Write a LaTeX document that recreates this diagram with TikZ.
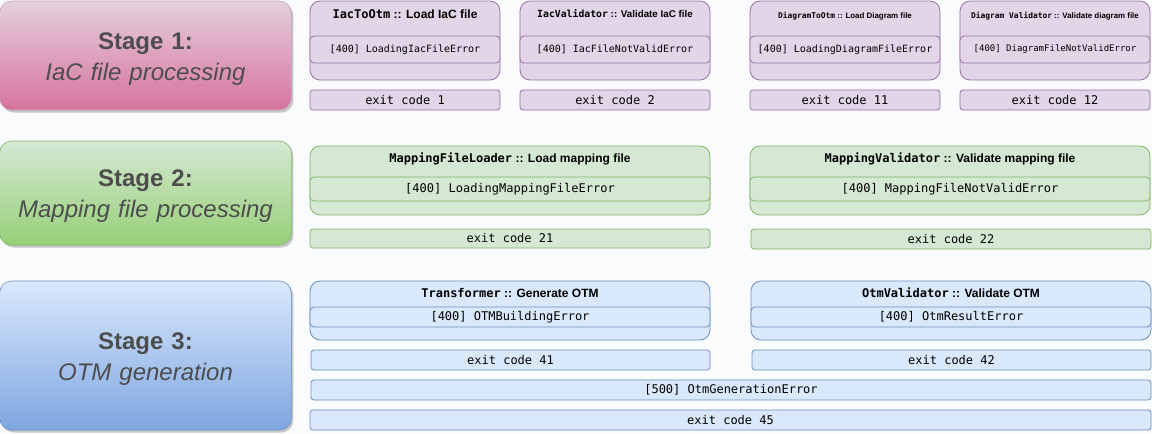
\documentclass[tikz,border=0pt]{standalone}
\usepackage{fontspec}
\setmainfont{Liberation Sans}
\setmonofont{DejaVu Sans Mono}
\usepackage{tikz}
\usetikzlibrary{shapes.geometric, shadows}

\definecolor{bgcolor}{HTML}{F9FBFD}
\definecolor{stagetext}{HTML}{4D4D4D}
\definecolor{pinktop}{HTML}{E6D0DE}
\definecolor{pinkbottom}{HTML}{D5739D}
\definecolor{pinkline}{HTML}{C9A2B8}
\definecolor{greentop}{HTML}{D5E8D4}
\definecolor{greenbottom}{HTML}{97D077}
\definecolor{bluetop}{HTML}{DAE8FC}
\definecolor{bluebottom}{HTML}{7EA6E0}
\definecolor{purplefill}{HTML}{E1D5E7}
\definecolor{purpleline}{HTML}{9673A6}
\definecolor{greenfill}{HTML}{D5E8D4}
\definecolor{greenline}{HTML}{82B366}
\definecolor{bluefill}{HTML}{DAE8FC}
\definecolor{blueline}{HTML}{6C8EBF}

\tikzstyle{stage} = [rectangle, rounded corners=12pt, minimum width=289pt, text width=285pt, text depth=29pt, align=center, text=stagetext, line width=0.6pt, font=\fontsize{24}{31}\selectfont\bfseries, drop shadow={shadow xshift=2pt, shadow yshift=-2.5pt, opacity=0.3, fill=black!70}]
\tikzstyle{component} = [rectangle, rounded corners=10pt, minimum width=190pt, inner sep=0pt, line width=0.8pt]
\tikzstyle{errorrow} = [rectangle, rounded corners=4pt, minimum width=190pt, inner sep=0pt, line width=0.8pt, font=\fontsize{12}{14}\selectfont\ttfamily]
\tikzstyle{exitbox} = [rectangle, rounded corners=3pt, minimum width=190pt, minimum height=20pt, inner sep=0pt, line width=0.8pt, font=\fontsize{12}{14}\selectfont\ttfamily]
\tikzstyle{title} = [inner sep=0pt, font=\fontsize{12}{14}\selectfont\bfseries]
\tikzstyle{purple} = [draw=purpleline, fill=purplefill]
\tikzstyle{green} = [draw=greenline, fill=greenfill]
\tikzstyle{blue} = [draw=blueline, fill=bluefill]

\begin{document}
\begin{tikzpicture}[x=1pt, y=-1pt]
    \fill[bgcolor] (0,0) rectangle (1152,434);
    \useasboundingbox (0,0) rectangle (1152,434);

    % stages
    \node (stage1) [stage, draw=pinkline, top color=pinktop, bottom color=pinkbottom, minimum height=109pt] at (145.5,55.5) {Stage 1:\\{\mdseries\itshape IaC file processing}};
    \node (stage2) [stage, draw=greenline, top color=greentop, bottom color=greenbottom, minimum height=104pt] at (145.5,193) {Stage 2:\\{\mdseries\itshape Mapping file processing}};
    \node (stage3) [stage, draw=blueline, top color=bluetop, bottom color=bluebottom, minimum height=149pt] at (145.5,355.5) {Stage 3:\\{\mdseries\itshape OTM generation}};

    % stage 1
    \node (iactootm) [component, purple, minimum height=79pt] at (405,40.5) {};
    \node (iactootm-title) [title] at (405,14) {{\ttfamily IacToOtm} :: Load IaC file};
    \node (iactootm-error) [errorrow, purple, minimum height=27pt, font=\fontsize{10}{12}\selectfont\ttfamily] at (405,49.5) {[400] LoadingIacFileError};
    \node (iactootm-exit) [exitbox, purple] at (405,100) {exit code 1};

    \node (iacvalidator) [component, purple, minimum height=79pt] at (615,40.5) {};
    \node (iacvalidator-title) [title, font=\fontsize{9.8}{11}\selectfont\bfseries] at (615,14) {{\ttfamily IacValidator} :: Validate IaC file};
    \node (iacvalidator-error) [errorrow, purple, minimum height=27pt, font=\fontsize{10}{12}\selectfont\ttfamily] at (615,49.5) {[400] IacFileNotValidError};
    \node (iacvalidator-exit) [exitbox, purple] at (615,100) {exit code 2};

    \node (diagramtootm) [component, purple, minimum height=79pt] at (845,40.5) {};
    \node (diagramtootm-title) [title, font=\fontsize{7.9}{9}\selectfont\bfseries] at (845,16) {{\ttfamily DiagramToOtm} :: Load Diagram file};
    \node (diagramtootm-error) [errorrow, purple, minimum height=27pt, font=\fontsize{10}{12}\selectfont\ttfamily] at (845,49.5) {[400] LoadingDiagramFileError};
    \node (diagramtootm-exit) [exitbox, purple] at (845,100) {exit code 11};

    \node (diagramvalidator) [component, purple, minimum height=79pt] at (1055,40.5) {};
    \node (diagramvalidator-title) [title, font=\fontsize{7.9}{9}\selectfont\bfseries] at (1055,16) {{\ttfamily Diagram Validator} :: Validate diagram file};
    \node (diagramvalidator-error) [errorrow, purple, minimum height=27pt, font=\fontsize{9}{11}\selectfont\ttfamily] at (1055,49.5) {[400] DiagramFileNotValidError};
    \node (diagramvalidator-exit) [exitbox, purple] at (1055,100) {exit code 12};

    % stage 2
    \node (mappingloader) [component, green, minimum width=400pt, minimum height=69pt] at (510,180.5) {};
    \node (mappingloader-title) [title] at (510,159) {{\ttfamily MappingFileLoader} :: Load mapping file};
    \node (mappingloader-error) [errorrow, green, minimum width=400pt, minimum height=24pt] at (510,189) {[400] LoadingMappingFileError};
    \node (mappingloader-exit) [exitbox, green, minimum width=400pt, minimum height=19pt] at (510,238.5) {exit code 21};

    \node (mappingvalidator) [component, green, minimum width=400pt, minimum height=69pt] at (950,180.5) {};
    \node (mappingvalidator-title) [title] at (950,159) {{\ttfamily MappingValidator} :: Validate mapping file};
    \node (mappingvalidator-error) [errorrow, green, minimum width=400pt, minimum height=24pt] at (950,189) {[400] MappingFileNotValidError};
    \node (mappingvalidator-exit) [exitbox, green, minimum width=400pt] at (951,239) {exit code 22};

    % stage 3
    \node (transformer) [component, blue, minimum width=400pt, minimum height=59pt] at (510,310.5) {};
    \node (transformer-title) [title] at (510,293) {{\ttfamily Transformer} :: Generate OTM};
    \node (transformer-error) [errorrow, blue, minimum width=400pt, minimum height=20pt] at (510,317) {[400] OTMBuildingError};
    \node (transformer-exit) [exitbox, blue, minimum width=399pt] at (510.5,360) {exit code 41};

    \node (otmvalidator) [component, blue, minimum width=400pt, minimum height=59pt] at (951,310.5) {};
    \node (otmvalidator-title) [title] at (951,293) {{\ttfamily OtmValidator} :: Validate OTM};
    \node (otmvalidator-error) [errorrow, blue, minimum width=400pt, minimum height=20pt] at (951,317) {[400] OtmResultError};
    \node (otmvalidator-exit) [exitbox, blue, minimum width=399pt] at (951.5,360) {exit code 42};

    \node (generationerror) [exitbox, blue, minimum width=840pt] at (731,390) {[500] OtmGenerationError};
    \node (generationerror-exit) [exitbox, blue, minimum width=841pt] at (730.5,420) {exit code 45};
\end{tikzpicture}
\end{document}
